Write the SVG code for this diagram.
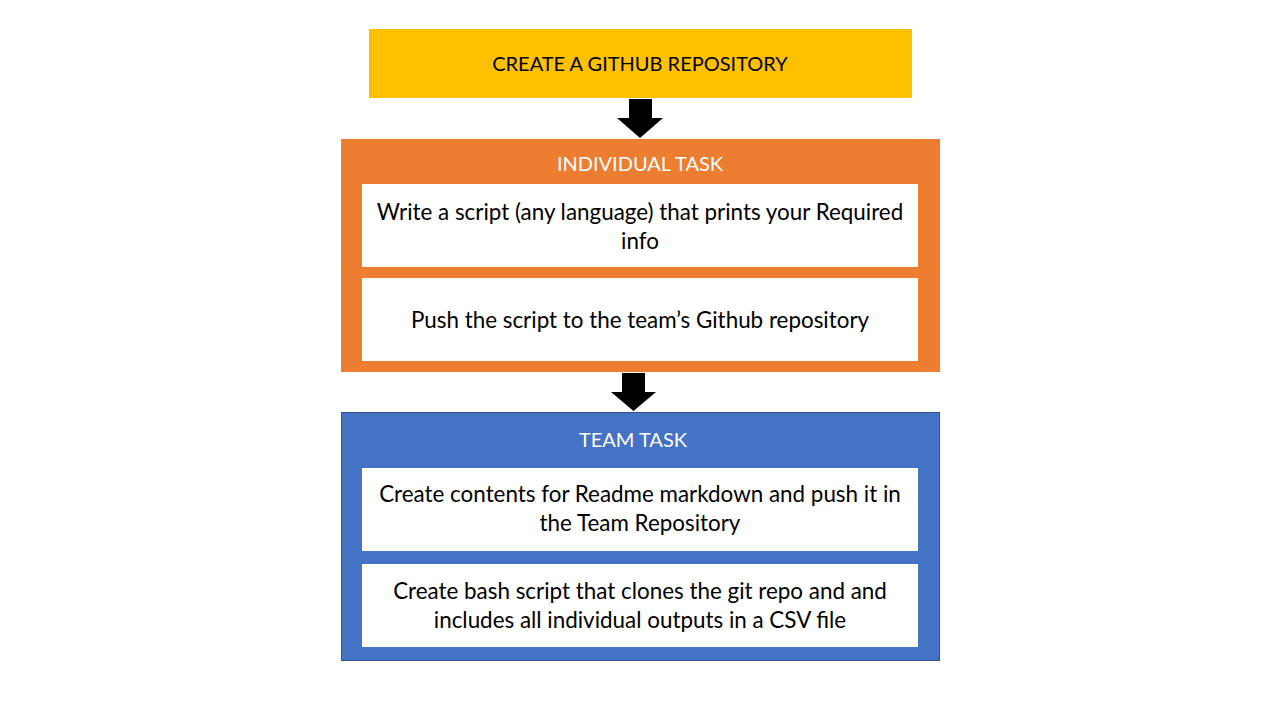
<svg xmlns="http://www.w3.org/2000/svg" width="1280" height="720" viewBox="0 0 1280 720">
<style>
text{font-family:Lato,"Open Sans","Liberation Sans",sans-serif;font-size:20px;text-anchor:middle}
text.body{font-size:22.4px}
.dark{fill:#000}
.light{fill:#fff}
.inner{fill:#fff}
.arrow{fill:#000}
</style>
<rect width="1280" height="720" fill="#fff"/>
<g id="create-repo">
<rect x="369" y="29" width="543" height="69" fill="#FFC000"/>
<text class="dark" x="640" y="71">CREATE A GITHUB REPOSITORY</text>
</g>
<g id="individual-task">
<rect x="341" y="139" width="599" height="233" fill="#ED7D31"/>
<text class="light" x="640" y="171">INDIVIDUAL TASK</text>
</g>
<g id="write-script">
<rect class="inner" x="362" y="184" width="556" height="83"/>
<text class="dark body" x="640" y="220">Write a script (any language) that prints your Required</text>
<text class="dark body" x="640" y="249">info</text>
</g>
<g id="push-script">
<rect class="inner" x="362" y="278" width="556" height="83"/>
<text class="dark body" x="640" y="328">Push the script to the team’s Github repository</text>
</g>
<g id="team-task">
<rect x="341.5" y="412.5" width="598" height="248" fill="#4472C4" stroke="#2F528F" stroke-width="1"/>
<text class="light" x="633" y="447">TEAM TASK</text>
</g>
<g id="readme">
<rect class="inner" x="362" y="468" width="556" height="83"/>
<text class="dark body" x="640" y="502">Create contents for Readme markdown and push it in</text>
<text class="dark body" x="640" y="531">the Team Repository</text>
</g>
<g id="bash-script">
<rect class="inner" x="362" y="564" width="556" height="83"/>
<text class="dark body" x="640" y="599">Create bash script that clones the git repo and and</text>
<text class="dark body" x="640" y="628">includes all individual outputs in a CSV file</text>
</g>
<g id="connectors">
<polygon class="arrow" points="629,99 652,99 652,118 663,118 640,138 617,118 629,118"/>
<polygon class="arrow" points="622,373 645,373 645,392 656,392 633.5,411 611,392 622,392"/>
</g>
</svg>
